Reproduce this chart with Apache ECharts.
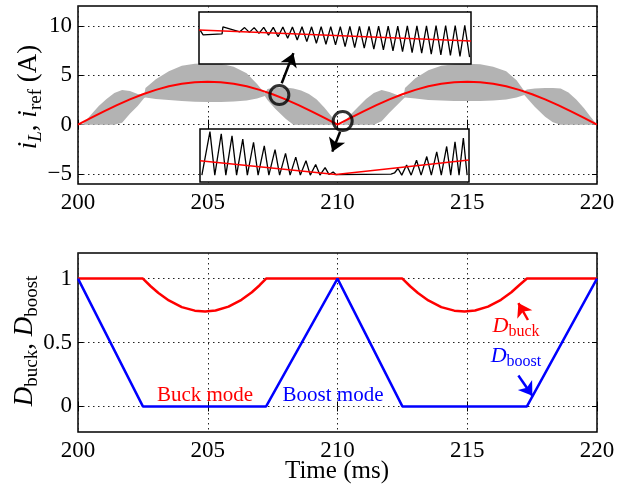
<!DOCTYPE html>
<html><head><meta charset="utf-8">
<script src="https://cdn.jsdelivr.net/npm/echarts@6/dist/echarts.min.js"></script>
<style>html,body{margin:0;padding:0;background:#fff}#c{width:638px;height:492px}</style>
</head><body><div id="c"></div><script>
// ---------- data ----------
const xTicks = [200, 205, 210, 215, 220];
const topYTicks = [-5, 0, 5, 10];
const botYTicks = [0, 0.5, 1];

// reference current i_ref (A)
const refT = [200,200.5,201,201.5,202,202.5,203,203.5,204,204.5,205,205.5,206,206.5,207,207.5,208,208.5,209,209.5,210,
              210.5,211,211.5,212,212.5,213,213.5,214,214.5,215,215.5,216,216.5,217,217.5,218,218.5,219,219.5,220];
const refV = [0,0.68,1.34,1.97,2.56,3.08,3.52,3.88,4.14,4.30,4.35,4.30,4.14,3.88,3.52,3.08,2.56,1.97,1.34,0.68,0,
              0.68,1.34,1.97,2.56,3.08,3.52,3.88,4.14,4.30,4.35,4.30,4.14,3.88,3.52,3.08,2.56,1.97,1.34,0.68,0];

// envelope of inductor current i_L (grey band)
const envT = [200,200.2,200.5,200.8,201.1,201.4,201.7,202,202.3,202.55,202.6,203,203.5,204,204.5,205,205.5,206,206.5,206.9,207.2,
              207.3,207.6,208,208.3,208.6,208.9,209.2,209.5,209.75,210,
              210.2,210.5,210.8,211.1,211.4,211.7,212,212.3,212.55,212.6,213,213.5,214,214.5,215,215.5,216,216.5,216.9,217.2,
              217.3,217.6,218,218.3,218.6,218.9,219.2,219.5,219.75,220];
const envHigh = [0,0.1,1.0,1.9,2.6,3.2,3.5,3.4,3.1,3.0,3.7,4.6,5.4,5.95,6.15,6.2,6.15,5.85,5.2,4.1,3.15,
                 3.6,3.75,3.75,3.65,3.45,3.1,2.55,1.7,0.9,0,
                 0.1,1.0,1.8,2.6,3.2,3.5,3.3,3.0,2.9,3.7,4.7,5.5,5.95,6.1,6.15,6.1,5.85,5.4,4.5,3.4,
                 3.55,3.65,3.7,3.7,3.65,3.25,2.55,1.65,0.8,0];
const envLow  = [0,0,0,0,0,0,0.2,1.1,1.9,2.7,2.75,2.6,2.5,2.4,2.33,2.3,2.3,2.35,2.45,2.65,2.9,
                 2.5,1.6,0.6,0,0,0,0,0,0,0,
                 0,0,0,0,0,0.35,1.2,2.0,2.65,2.75,2.65,2.5,2.45,2.4,2.4,2.4,2.45,2.55,2.75,3.0,
                 2.7,1.8,0.8,0.25,0,0,0,0,0,0];

// duty cycles
const buckT = [200,202.5,202.8,203.1,203.5,204,204.5,204.9,205.3,205.8,206.3,206.7,207,207.25,
               212.5,212.8,213.1,213.5,214,214.5,214.9,215.3,215.8,216.3,216.7,217,217.3,220];
const buckV = [1,1,0.94,0.887,0.829,0.777,0.749,0.742,0.75,0.781,0.834,0.893,0.948,1,
               1,0.94,0.887,0.829,0.777,0.749,0.742,0.75,0.781,0.834,0.893,0.948,1,1];
const boostT = [200,202.5,207.25,210,212.5,217.3,220];
const boostV = [1,0,0,1,0,0,1];

// zoomed insets (normalised units)
const topInsetLeadX = [-4.15,-3.83,-1.85,-1.76,0];
const topInsetLeadY = [0.65,0.56,0.58,0.715,0.62];
const topInsetPeaks = [0.70,0.70,0.705,0.705,0.71,0.71,0.715,0.715,0.72,0.72,0.72,0.725,0.725,0.725,0.73,0.73,0.73,0.735,0.735,0.735,0.74,0.74,0.74,0.745];
const topInsetTroughs = [0.608,0.589,0.557,0.525,0.494,0.462,0.43,0.40,0.38,0.367,0.335,0.316,0.304,0.285,0.272,0.253,0.24,0.22,0.209,0.19,0.177,0.164,0.145,0.133];
const topInsetRefX = [-4.26,24.15];
const topInsetRefY = [0.652,0.443];

const botInsetX = [0.7,3.7,5.5,7.9,9.6,11.9,13.6,15.9,17.6,19.9,21.6,23.9,25.6,27.9,29.6,31.8,33.5,35.6,37.3,39.4,41.0,43.0,44.6,46.5,48.0,49.5,50.5,
                   71.0,72.3,73.6,75.0,76.8,78.5,80.5,82.2,84.3,86.0,88.0,89.7,91.7,93.2,94.8,96.3,97.9,99.3];
const botInsetY = [0.13,0.95,0.13,0.91,0.13,0.87,0.13,0.81,0.13,0.75,0.13,0.68,0.13,0.61,0.13,0.54,0.13,0.47,0.13,0.40,0.13,0.33,0.13,0.27,0.14,0.19,0.14,
                   0.15,0.17,0.255,0.13,0.32,0.13,0.41,0.13,0.48,0.13,0.57,0.13,0.67,0.13,0.76,0.13,0.83,0.13];
const botInsetRefX = [0,50.5,100];
const botInsetRefY = [0.40,0.14,0.414];

// annotations (data units)
const circleMarks = [[207.76,3.0],[210.2,0.37]];
const arrowTop = [[[207.85,4.19],[208.3,7.23]],[[210.1,-0.71],[209.8,-2.73]]];
const arrowBuck = [[217.34,0.676],[216.97,0.808]];
const arrowBoost = [[216.97,0.242],[217.51,0.084]];

// ---------- chart ----------
const F = 'Liberation Serif';
const zip = (a, b) => a.map((v, i) => [v, b[i]]);
const topInsetX = [], topInsetY = [];
topInsetLeadX.forEach((v, i) => { topInsetX.push(v); topInsetY.push(topInsetLeadY[i]); });
topInsetPeaks.forEach((p, k) => {
  topInsetX.push(k + 0.5); topInsetY.push(p);
  topInsetX.push(k + 1); topInsetY.push(topInsetTroughs[k]);
});
const fmt = v => v < 0 ? '\u2212' + (-v) : String(v);
const dot = {color: '#222', type: [1.5, 3.5], width: 1};

function xAx(grid, pos, main) {
  return {type: 'value', gridIndex: grid, position: pos, min: 200, max: 220, interval: 5,
    axisLine: {show: false},
    axisTick: {show: true, inside: true, length: 5, lineStyle: {color: '#000', width: 1}},
    axisLabel: {show: main, margin: 7, color: '#000', fontFamily: F, fontSize: 23},
    splitLine: {show: main, lineStyle: dot}};
}
function yAx(grid, pos, main, min, max, ticks) {
  return {type: 'value', gridIndex: grid, position: pos, min: min, max: max,
    axisLine: {show: false},
    axisTick: {show: true, inside: true, length: 5, customValues: ticks, lineStyle: {color: '#000', width: 1}},
    axisLabel: {show: main, margin: 6, color: '#000', fontFamily: F, fontSize: 23, customValues: ticks, formatter: fmt},
    splitLine: {show: main, lineStyle: dot}};
}
const hid = (grid, min, max) => ({type: 'value', gridIndex: grid, min: min, max: max, show: false,
  axisLine: {show: false}, axisTick: {show: false}, axisLabel: {show: false}, splitLine: {show: false}});

const chart = echarts.init(document.getElementById('c'));
const rich = (main, sub) => ({
  i: {fontFamily: F, fontStyle: 'italic', fontSize: main, lineHeight: main + 6},
  r: {fontFamily: F, fontSize: main, lineHeight: main + 6},
  si: {fontFamily: F, fontStyle: 'italic', fontSize: sub, lineHeight: sub, verticalAlign: 'bottom'},
  s: {fontFamily: F, fontSize: sub, lineHeight: sub, verticalAlign: 'bottom'}
});
function richText(x, y, text, color, main, sub, extra) {
  const r = rich(main, sub);
  Object.keys(r).forEach(k => { r[k].fill = color; });
  return Object.assign({type: 'text', x: x, y: y, z: 50,
    style: {text: text, rich: r, fill: color, align: 'center', verticalAlign: 'middle'}}, extra || {});
}
function arrowLine(color, pairs) {
  return {silent: true, symbol: ['none', 'arrow'], symbolSize: 13, label: {show: false},
    itemStyle: {color: color},
    lineStyle: {color: color, width: 2.5, type: 'solid'},
    emphasis: {disabled: true},
    data: pairs.map(a => [{coord: a[0]}, {coord: a[1]}])};
}

chart.setOption({
  animation: false,
  backgroundColor: '#fff',
  grid: [
    {left: 78, top: 6, width: 519, height: 178, show: true, borderColor: '#000', borderWidth: 1.5, backgroundColor: 'rgba(0,0,0,0)'},
    {left: 78, top: 253, width: 519, height: 179, show: true, borderColor: '#000', borderWidth: 1.5, backgroundColor: 'rgba(0,0,0,0)'},
    {left: 199, top: 12, width: 272, height: 52, show: true, borderColor: '#000', borderWidth: 1.5, backgroundColor: '#fff', z: 3},
    {left: 200, top: 129, width: 269, height: 53, show: true, borderColor: '#000', borderWidth: 1.5, backgroundColor: '#fff', z: 3}
  ],
  xAxis: [xAx(0, 'bottom', true), xAx(0, 'top', false), xAx(1, 'bottom', true), xAx(1, 'top', false),
          hid(2, -4.26, 24.15), hid(3, 0, 100)],
  yAxis: [yAx(0, 'left', true, -6, 12, topYTicks), yAx(0, 'right', false, -6, 12, topYTicks),
          yAx(1, 'left', true, -0.2, 1.2, botYTicks), yAx(1, 'right', false, -0.2, 1.2, botYTicks),
          hid(2, 0, 1), hid(3, 0, 1)],
  series: [
    {type: 'custom', xAxisIndex: 0, yAxisIndex: 0, data: zip(envT, envHigh), silent: true, z: 1,
     encode: {x: 0, y: 1},
     renderItem: function (params, api) {
       if (params.dataIndex !== 0) return null;
       const up = envT.map((t, i) => api.coord([t, envHigh[i]]));
       const lo = envT.map((t, i) => api.coord([t, envLow[i]])).reverse();
       return {type: 'polygon', shape: {points: up.concat(lo)}, style: {fill: '#b3b3b3', stroke: null}};
     }},
    {type: 'line', xAxisIndex: 0, yAxisIndex: 0, data: zip(refT, refV), showSymbol: false,
     lineStyle: {color: '#ff0000', width: 2}, silent: true, z: 2},
    {type: 'scatter', xAxisIndex: 0, yAxisIndex: 0, data: circleMarks, symbol: 'circle', symbolSize: 19,
     itemStyle: {color: 'rgba(0,0,0,0)', borderColor: '#000', borderWidth: 3}, silent: true, z: 10,
     markLine: arrowLine('#000', arrowTop)},
    {type: 'line', xAxisIndex: 4, yAxisIndex: 4, data: zip(topInsetX, topInsetY), showSymbol: false,
     lineStyle: {color: '#000', width: 1.3}, silent: true, z: 4},
    {type: 'line', xAxisIndex: 4, yAxisIndex: 4, data: zip(topInsetRefX, topInsetRefY), showSymbol: false,
     lineStyle: {color: '#ff0000', width: 1.5}, silent: true, z: 5},
    {type: 'line', xAxisIndex: 5, yAxisIndex: 5, data: zip(botInsetX, botInsetY), showSymbol: false,
     lineStyle: {color: '#000', width: 1.3}, silent: true, z: 4},
    {type: 'line', xAxisIndex: 5, yAxisIndex: 5, data: zip(botInsetRefX, botInsetRefY), showSymbol: false,
     lineStyle: {color: '#ff0000', width: 1.5}, silent: true, z: 5},
    {type: 'line', xAxisIndex: 2, yAxisIndex: 2, data: zip(buckT, buckV), showSymbol: false,
     lineStyle: {color: '#ff0000', width: 2.5}, silent: true, z: 2,
     markLine: arrowLine('#ff0000', [arrowBuck])},
    {type: 'line', xAxisIndex: 2, yAxisIndex: 2, data: zip(boostT, boostV), showSymbol: false,
     lineStyle: {color: '#0000ff', width: 2.5}, silent: true, z: 3,
     markLine: arrowLine('#0000ff', [arrowBoost])}
  ],
  graphic: [
    richText(29, 97, '{i|i}{si|L}{r|, }{i|i}{s|ref}{r| (A)}', '#000', 27, 19, {rotation: Math.PI / 2}),
    richText(25, 341, '{i|D}{s|buck}{r|, }{i|D}{s|boost}', '#000', 27, 19, {rotation: Math.PI / 2}),
    {type: 'text', x: 337, y: 471, z: 50, style: {text: 'Time (ms)', fontFamily: F, fontSize: 25, fill: '#000', align: 'center', verticalAlign: 'middle'}},
    {type: 'text', x: 205, y: 395, z: 50, style: {text: 'Buck mode', fontFamily: F, fontSize: 21, fill: '#ff0000', align: 'center', verticalAlign: 'middle'}},
    {type: 'text', x: 333, y: 395, z: 50, style: {text: 'Boost mode', fontFamily: F, fontSize: 21, fill: '#0000ff', align: 'center', verticalAlign: 'middle'}},
    richText(516, 326, '{i|D}{s|buck}', '#ff0000', 22, 16),
    richText(516, 356, '{i|D}{s|boost}', '#0000ff', 22, 16)
  ]
});
</script></body></html>
